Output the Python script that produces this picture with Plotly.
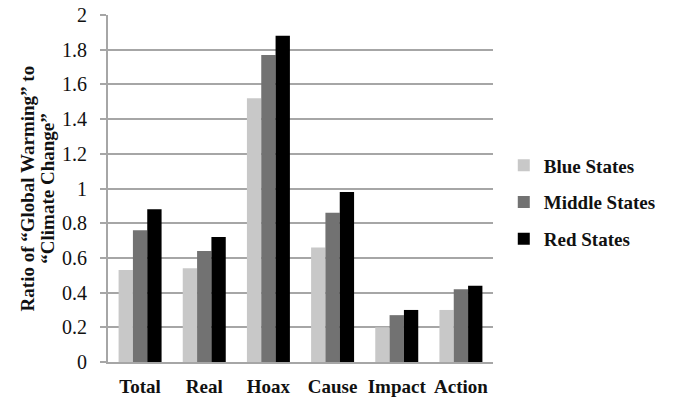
import plotly.graph_objects as go

categories = ["Total", "Real", "Hoax", "Cause", "Impact", "Action"]
blue_states = [0.53, 0.54, 1.52, 0.66, 0.20, 0.30]
middle_states = [0.76, 0.64, 1.77, 0.86, 0.27, 0.42]
red_states = [0.88, 0.72, 1.88, 0.98, 0.30, 0.44]
y_ticks = [0, 0.2, 0.4, 0.6, 0.8, 1, 1.2, 1.4, 1.6, 1.8, 2]
y_tick_labels = ["0", "0.2", "0.4", "0.6", "0.8", "1", "1.2", "1.4", "1.6", "1.8", "2"]
y_title_lines = ["Ratio of “Global Warming” to", "“Climate Change”"]

series = [
    ("Blue States", blue_states, "#c8c8c8"),
    ("Middle States", middle_states, "#727272"),
    ("Red States", red_states, "#000000"),
]

fig = go.Figure()
for i, (name, vals, color) in enumerate(series):
    fig.add_trace(go.Bar(x=categories, y=vals, name=name, marker_color=color,
                         marker_line_width=0, legendgroup=str(i)))

font_family = "Liberation Serif, Times New Roman, serif"
title_font = dict(size=19, family=font_family, weight="bold", color="#111111")
for line, xpos in zip(y_title_lines, [-0.208, -0.158]):
    fig.add_annotation(text=line, xref="paper", yref="paper", x=xpos, y=0.5,
                       xanchor="center", yanchor="middle", textangle=-90,
                       showarrow=False, font=title_font)

fig.update_layout(
    width=673, height=397,
    margin=dict(l=108, r=180, t=15, b=35, autoexpand=False),
    plot_bgcolor="white", paper_bgcolor="white",
    barmode="group", bargap=0.33, bargroupgap=0,
    font=dict(family=font_family, color="#111111"),
    legend=dict(x=1.028, y=0.46, xanchor="left", yanchor="middle",
                font=dict(size=19, family=font_family, color="#111111", weight="bold"),
                traceorder="grouped", tracegroupgap=9, itemwidth=30),
    showlegend=True,
)
fig.update_xaxes(showline=True, linecolor="#a6a6a6", linewidth=2, automargin=False,
                 tickfont=dict(size=19, family=font_family, weight="bold", color="#111111"),
                 ticks="", ticklabelstandoff=6)
fig.update_yaxes(range=[0, 2], tickvals=y_ticks, ticktext=y_tick_labels, automargin=False,
                 showgrid=True, gridcolor="#a6a6a6", gridwidth=2,
                 showline=True, linecolor="#a6a6a6", linewidth=2,
                 ticks="outside", ticklen=6, tickcolor="#a6a6a6", tickwidth=2,
                 zeroline=False,
                 tickfont=dict(size=20, family=font_family, color="#111111"),
                 ticklabelstandoff=9)

fig.write_html("out.html", config={"displayModeBar": False},
               post_script="document.body.style.margin='0';")
